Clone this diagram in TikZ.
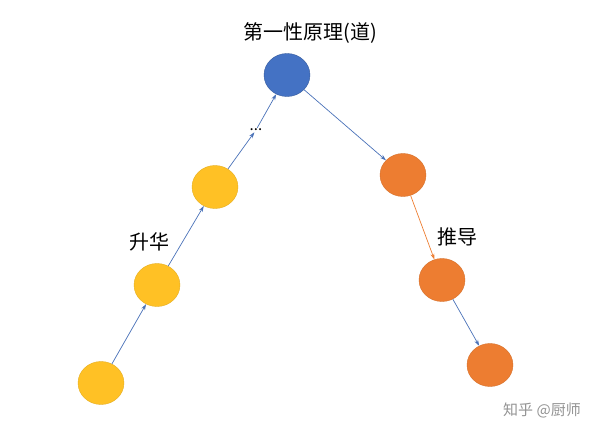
\documentclass[tikz,border=0pt]{standalone}
\usepackage{fontspec}
\setmainfont{Noto Sans CJK SC}
\usetikzlibrary{arrows.meta,shapes.geometric}
\definecolor{yel}{HTML}{FFC125}
\definecolor{org}{HTML}{ED7D31}
\definecolor{blu}{HTML}{4472C4}
\definecolor{arr}{HTML}{4A72B8}
\begin{document}
\begin{tikzpicture}[x=1pt,y=-1pt,
  ball/.style={ellipse,minimum width=46pt,minimum height=43pt,inner sep=0pt},
  yb/.style={ball,fill=yel,draw=yel!90!black,line width=0.4pt},
  ob/.style={ball,fill=org,draw=org!90!black,line width=0.4pt},
  bb/.style={ball,fill=blu,draw=blu!80!black,line width=0.4pt},
  con/.style={draw=arr,line width=0.7pt,-{Stealth[length=6pt,width=4pt]}},
  lab/.style={font=\fontsize{20}{22}\selectfont}]
\useasboundingbox (0,0) rectangle (600,434);
\node[yb] (y1) at (101,383) {};
\node[yb] (y2) at (157,285) {};
\node[yb] (y3) at (215,187) {};
\node[inner sep=1pt,font=\fontsize{15}{15}\selectfont] (d) at (256,130) {...};
\node[bb] (b) at (287,75) {};
\node[ob] (o1) at (403,175) {};
\node[ob] (o2) at (442,280) {};
\node[ob] (o3) at (490,365) {};
\node[lab] (t) at (310,33) {第一性原理(道)};
\node[lab] (s) at (149,242) {升华};
\node[lab] (p) at (457,237) {推导};
\node[font=\fontsize{15}{17}\selectfont,text=gray!85] (w) at (542,410) {知乎 @厨师};
\draw[con] (y1) -- (y2);
\draw[con] (y2) -- (y3);
\draw[con] (y3) -- (d);
\draw[con] (d) -- (b);
\draw[con] (b) -- (o1);
\draw[con,draw=org] (o1) -- (o2);
\draw[con] (o2) -- (o3);
\end{tikzpicture}
\end{document}
